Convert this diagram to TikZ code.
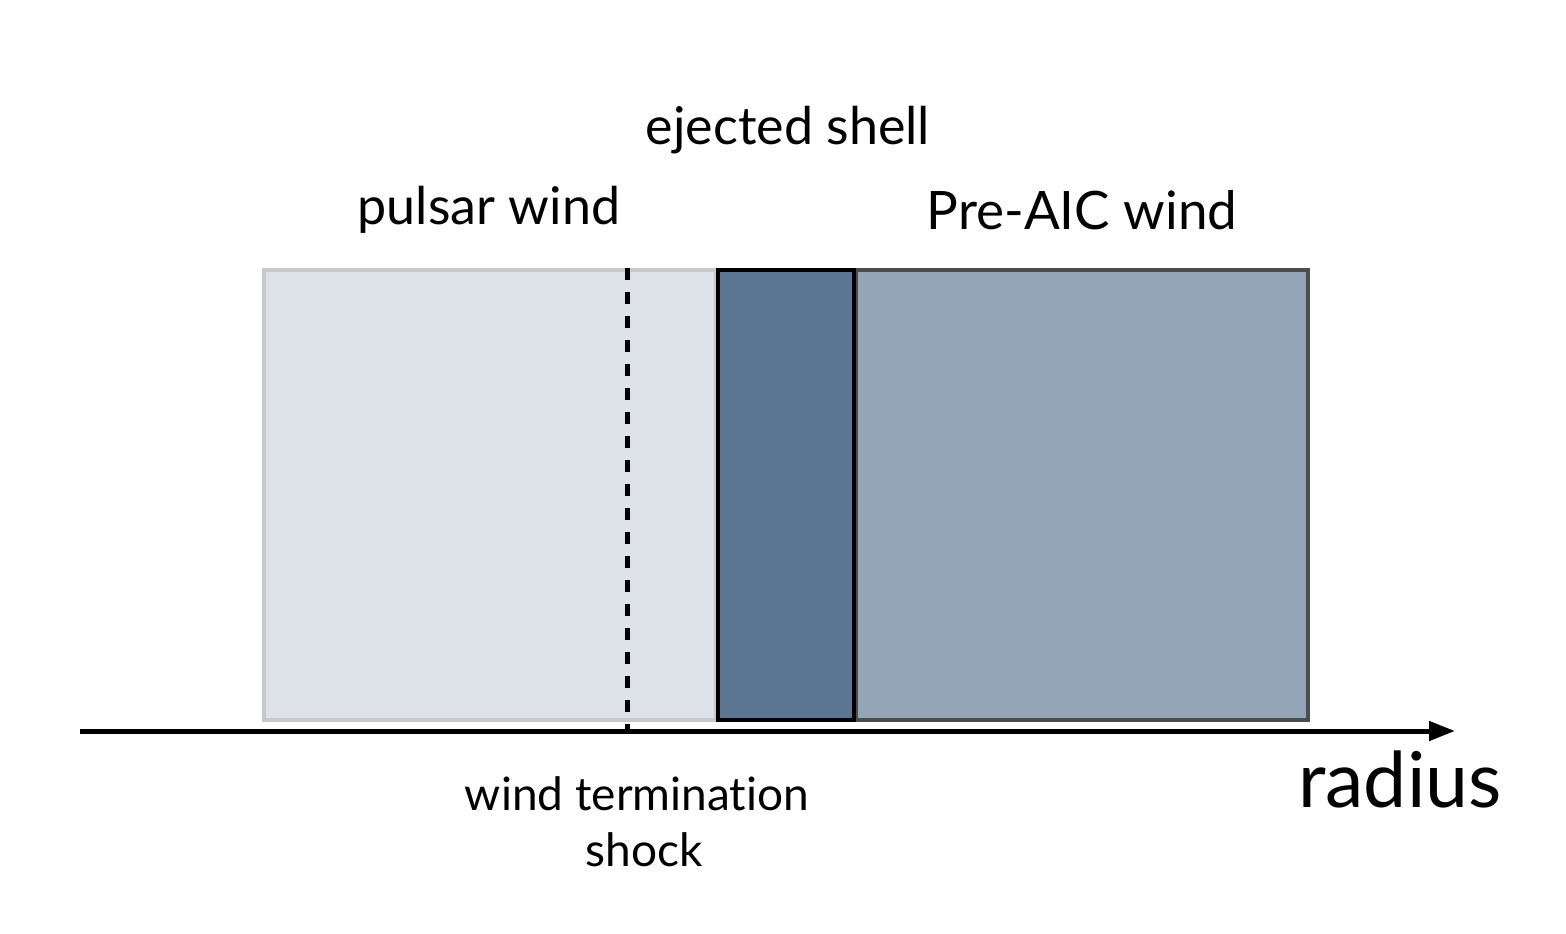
\documentclass[tikz,border=0pt]{standalone}
\usepackage{fontspec}
\setmainfont[Ligatures=NoCommon]{Lato}
\usetikzlibrary{arrows.meta}
\definecolor{lightfill}{HTML}{DDE2E8}
\definecolor{lightedge}{HTML}{C8C8C8}
\definecolor{shellfill}{HTML}{5B7592}
\definecolor{windfill}{HTML}{94A5B8}
\definecolor{windedge}{HTML}{4D4D4D}
\tikzset{
  region/.style={line width=4pt},
  lbl/.style={font=\fontsize{52}{60}\selectfont, inner sep=0pt},
  smalllbl/.style={font=\fontsize{46}{56}\selectfont, inner sep=0pt, anchor=base},
}
\begin{document}
\begin{tikzpicture}[x=1pt,y=-1pt]
\useasboundingbox[fill=white] (0,0) rectangle (1566,934);
\draw[region, draw=lightedge, fill=lightfill] (264,270) rectangle (716,720);
\draw[region, draw=windedge, fill=windfill] (856,270) rectangle (1308,720);
\draw[region, draw=black, fill=shellfill] (718,270) rectangle (854,720);
\coordinate (dtop) at (627,268);
\coordinate (dbot) at (627,731);
\draw[line width=5pt, dash pattern=on 12pt off 12pt, dash phase=0pt] (dtop) -- (dbot);
\coordinate (ax0) at (80,731);
\coordinate (ax1) at (1455,731);
\draw[line width=5pt, -{Triangle[length=26pt,width=22pt,angle'=40]}] (ax0) -- (ax1);
\node[lbl] (shell) at (788,130) {ejected shell};
\node[lbl] (pulsar) at (489,210) {pulsar wind};
\node[lbl, font=\fontsize{53}{60}\selectfont] (preaic) at (1082,210) {Pre-AIC wind};
\node[smalllbl] (wts1) at (637,810) {wind termination};
\node[smalllbl] (wts2) at (644,866) {shock};
\node[font=\fontsize{77}{90}\selectfont, inner sep=0pt] (radius) at (1400,779) {radius};
\end{tikzpicture}
\end{document}
